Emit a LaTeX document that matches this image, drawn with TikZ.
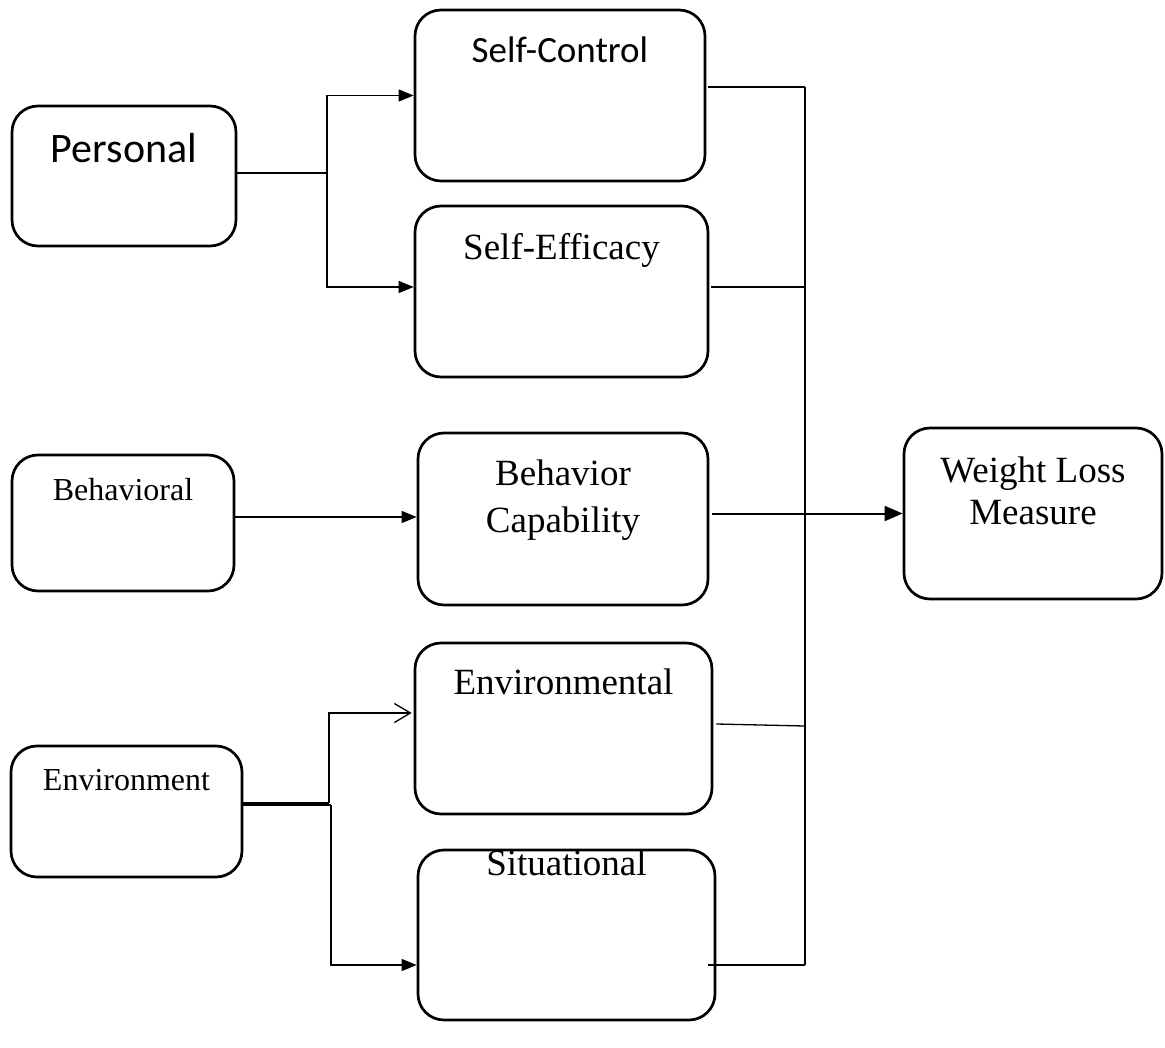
\documentclass[tikz,border=0pt]{standalone}
\usepackage{fontspec}
\setmainfont{Liberation Serif}
\newfontfamily\calib{Carlito}
\usetikzlibrary{arrows.meta,positioning,calc}
\tikzset{
  box/.style={draw, line width=2.7pt, rounded corners=26pt, inner sep=0pt},
  lbl/.style={anchor=base, align=center, inner sep=0pt},
  conn/.style={line width=1.3pt},
  arr/.style={conn, -{Triangle[length=15pt,width=12pt]}},
  openarr/.style={conn, -{Straight Barb[length=16pt,width=19pt]}},
  mainarr/.style={line width=2pt, -{Triangle[length=18pt,width=15pt]}},
}
\begin{document}
\begin{tikzpicture}[x=1pt, y=-1pt]
  \useasboundingbox (0,0) rectangle (1165,1048);
  % left column
  \node[box, minimum width=224pt, minimum height=140pt,
        label={[lbl, yshift=-58pt, font=\calib\fontsize{42}{50}\selectfont]north:Personal}]
        (personal) at (124,176) {};
  \node[box, minimum width=222pt, minimum height=136pt,
        label={[lbl, yshift=-47pt, font=\fontsize{32}{38}\selectfont]north:Behavioral}]
        (behav) at (123,523) {};
  \node[box, minimum width=231pt, minimum height=131pt,
        label={[lbl, yshift=-46pt, font=\fontsize{32}{38}\selectfont]north:Environment}]
        (envmt) at (126.5,811.5) {};
  % middle column
  \node[box, minimum width=290pt, minimum height=171pt,
        label={[lbl, yshift=-54pt, font=\calib\fontsize{37}{44}\selectfont]north:Self-Control}]
        (selfctl) at (560,95.5) {};
  \node[box, minimum width=293pt, minimum height=171pt,
        label={[lbl, yshift=-55pt, font=\fontsize{37}{44}\selectfont]north:Self-Efficacy}]
        (selfeff) at (561.5,291.5) {};
  \node[box, minimum width=290pt, minimum height=172pt,
        label={[lbl, yshift=-101pt, font=\fontsize{37}{47}\selectfont]north:Behavior\\Capability}]
        (behcap) at (563,519) {};
  \node[box, minimum width=297pt, minimum height=171pt,
        label={[lbl, yshift=-53pt, font=\fontsize{37}{44}\selectfont]north:Environmental}]
        (envtal) at (563.5,728.5) {};
  \node[box, minimum width=297pt, minimum height=170pt,
        label={[lbl, yshift=-27pt, font=\fontsize{37}{44}\selectfont]north:Situational}]
        (situ) at (566.5,935) {};
  % outcome
  \node[box, minimum width=258pt, minimum height=171pt,
        label={[lbl, yshift=-98pt, font=\fontsize{37}{42}\selectfont]north:Weight Loss\\Measure}]
        (wlm) at (1033,513.5) {};

  % inputs
  \coordinate (pj) at (327,173);
  \draw[conn] ([yshift=3pt]personal.east) -- (pj);
  \draw[arr] (pj) |- (selfctl.west);
  \draw[arr] (pj) |- ([yshift=4.5pt]selfeff.west);
  \draw[arr] ([yshift=6pt]behav.east) -- ([yshift=2pt]behcap.west);
  \coordinate (ej1) at (329,803);
  \coordinate (ej2) at (331,805);
  \draw[conn] ([yshift=8.5pt]envmt.east) -- (ej1);
  \draw[conn] ([yshift=6.5pt]envmt.east) -- (ej2);
  \draw[openarr] (ej1) |- ([xshift=-2pt,yshift=15.5pt]envtal.west);
  \draw[arr] (ej2) |- ([yshift=-30pt]situ.west);

  % outputs
  \coordinate (bt) at (805,87);
  \coordinate (bb) at (805,965);
  \draw[conn] (bt) -- (bb);
  \draw[conn] ([xshift=2pt,yshift=8.5pt]selfctl.east) -- (bt);
  \draw[conn] ([xshift=2pt,yshift=4.5pt]selfeff.east) -- ([yshift=4.5pt]selfeff.east -| bt);
  \draw[conn] ([xshift=3pt,yshift=5pt]behcap.east) -- ([yshift=5pt]behcap.east -| bt);
  \draw[conn] ([xshift=3pt,yshift=4.5pt]envtal.east) -- ([yshift=2.5pt]envtal.east -| bt);
  \draw[conn] ([xshift=-8pt]situ.east |- bb) -- (bb);
  \draw[mainarr] (wlm.west -| bt) -- (wlm.west);
\end{tikzpicture}
\end{document}
